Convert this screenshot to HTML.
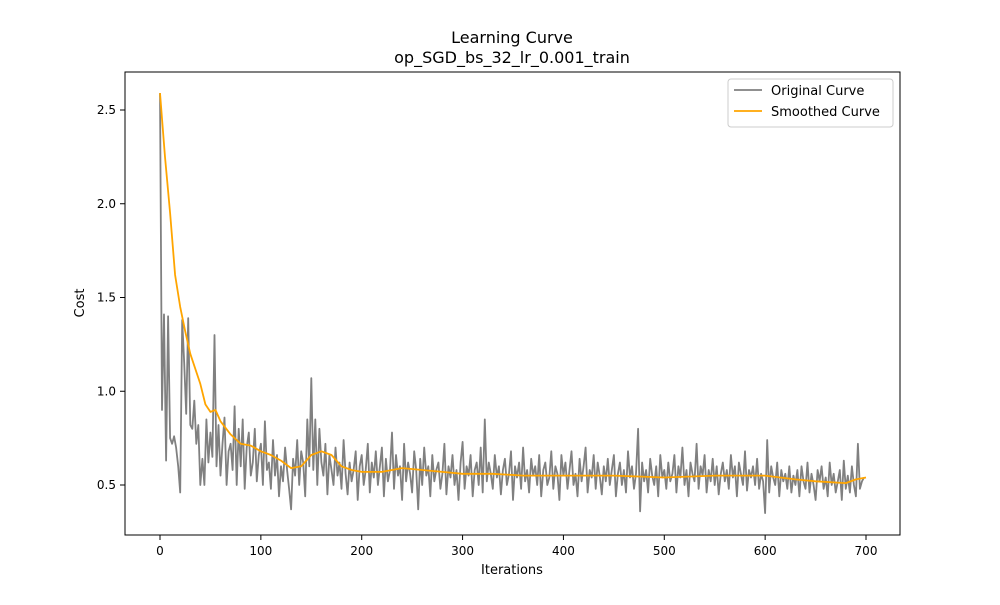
<!DOCTYPE html>
<html><head><meta charset="utf-8"><style>
body{margin:0;background:#fff;font-family:"Liberation Sans","DejaVu Sans",sans-serif}
</style></head><body>
<svg id="chart" width="1000" height="600" xmlns="http://www.w3.org/2000/svg" font-family="DejaVu Sans, Liberation Sans, sans-serif">
<rect width="1000" height="600" fill="#fff"/>
<text x="512" y="43" text-anchor="middle" font-size="16">Learning Curve</text>
<text x="512" y="63" text-anchor="middle" font-size="16">op_SGD_bs_32_lr_0.001_train</text>
<g id="plot"></g>
<rect x="125" y="72" width="775" height="463" fill="none" stroke="#000" stroke-width="1"/>
<text x="512" y="574" text-anchor="middle" font-size="13">Iterations</text>
<text transform="translate(84,303) rotate(-90)" text-anchor="middle" font-size="13">Cost</text>
<g>
<rect x="728" y="79" width="165" height="48" rx="3" fill="#fff" stroke="#ccc"/>
<line x1="734" y1="90" x2="762" y2="90" stroke="#808080" stroke-width="1.8"/>
<text x="771" y="95" font-size="13">Original Curve</text>
<line x1="734" y1="111" x2="762" y2="111" stroke="#FFA500" stroke-width="1.8"/>
<text x="771" y="116" font-size="13">Smoothed Curve</text>
</g>
</svg>
<script>
const originalStep = 2;
const originalValues = [
2.59,0.90,1.41,0.63,1.40,0.75,0.72,0.76,0.70,0.60,0.46,1.38,1.15,0.88,1.39,0.82,0.80,0.95,0.72,0.82,
0.50,0.64,0.50,0.85,0.62,0.78,0.65,1.30,0.60,0.82,0.55,0.72,0.86,0.50,0.68,0.72,0.58,0.92,0.50,0.80,0.60,0.85,0.48,0.70,0.78,0.55,0.62,0.80,0.52,0.66,
0.72,0.50,0.84,0.58,0.62,0.48,0.74,0.55,0.66,0.44,0.60,0.52,0.70,0.58,0.48,0.37,0.64,0.55,0.74,0.50,0.68,0.62,0.44,0.85,0.60,1.07,0.58,0.85,0.50,0.80,0.62,0.55,0.72,0.45,0.66,0.58,0.50,0.70,0.55,0.62,0.48,0.74,0.56,0.45,0.62,0.52,0.58,0.68,0.42,0.60,
0.66,0.50,0.58,0.72,0.46,0.62,0.54,0.68,0.50,0.60,0.70,0.44,0.64,0.52,0.58,0.78,0.48,0.66,0.55,0.60,0.42,0.72,0.52,0.62,0.56,0.46,0.68,0.58,0.37,0.64,0.50,0.70,0.55,0.60,0.44,0.66,0.52,0.58,0.62,0.48,0.56,0.72,0.45,0.60,0.54,0.66,0.50,0.58,0.42,0.62,
0.73,0.48,0.60,0.55,0.66,0.44,0.58,0.62,0.50,0.70,0.46,0.85,0.52,0.62,0.56,0.48,0.66,0.54,0.60,0.45,0.58,0.64,0.50,0.56,0.68,0.42,0.60,0.54,0.62,0.48,0.70,0.52,0.58,0.46,0.64,0.55,0.60,0.50,0.66,0.44,0.58,0.62,0.50,0.54,0.68,0.48,0.60,0.56,0.42,0.66,
0.55,0.62,0.48,0.58,0.68,0.50,0.56,0.44,0.64,0.52,0.60,0.70,0.46,0.58,0.54,0.66,0.48,0.62,0.55,0.45,0.60,0.52,0.64,0.50,0.58,0.66,0.44,0.56,0.62,0.50,0.58,0.46,0.68,0.54,0.60,0.48,0.56,0.80,0.36,0.62,0.52,0.58,0.46,0.64,0.55,0.50,0.60,0.44,0.66,0.54,
0.58,0.48,0.62,0.52,0.56,0.66,0.46,0.60,0.54,0.70,0.50,0.58,0.44,0.62,0.56,0.52,0.72,0.48,0.60,0.55,0.66,0.46,0.58,0.52,0.64,0.50,0.60,0.45,0.56,0.62,0.52,0.58,0.48,0.66,0.54,0.60,0.44,0.62,0.56,0.50,0.68,0.47,0.58,0.54,0.60,0.50,0.64,0.48,0.56,0.52,
0.35,0.74,0.46,0.60,0.54,0.50,0.62,0.44,0.58,0.52,0.56,0.48,0.60,0.46,0.55,0.50,0.58,0.44,0.60,0.52,0.48,0.62,0.46,0.56,0.50,0.42,0.58,0.52,0.60,0.48,0.54,0.44,0.62,0.50,0.56,0.46,0.52,0.58,0.42,0.63,0.48,0.55,0.46,0.60,0.50,0.44,0.72,0.48,0.52,0.54
];
const smoothIters = [0,5,10,15,20,25,30,35,40,45,50,55,60,70,80,90,100,110,120,130,140,150,160,170,180,190,200,220,240,260,280,300,330,360,400,450,500,550,600,630,650,680,690,700];
const smoothValues = [2.59,2.25,1.95,1.62,1.45,1.32,1.20,1.12,1.04,0.93,0.89,0.90,0.84,0.77,0.72,0.71,0.68,0.66,0.63,0.59,0.60,0.66,0.68,0.66,0.60,0.58,0.57,0.57,0.59,0.58,0.57,0.56,0.56,0.55,0.55,0.55,0.54,0.55,0.55,0.53,0.52,0.51,0.53,0.54];
const xTicks = [0,100,200,300,400,500,600,700];
const yTicks = [0.5,1.0,1.5,2.0,2.5];

const NS = "http://www.w3.org/2000/svg";
const X = v => 160 + (v) * (866 - 160) / 700;
const Y = v => 485 - (v - 0.5) * 187.5;
const g = document.getElementById('plot');
function mk(tag, attrs){const e=document.createElementNS(NS,tag);for(const k in attrs)e.setAttribute(k,attrs[k]);return e;}

xTicks.forEach(t=>{
  const l=mk('line',{x1:X(t),x2:X(t),y1:535,y2:540,stroke:'#000'});
  
  
  g.appendChild(l);
  const tx=mk('text',{x:X(t),y:555,'text-anchor':'middle','font-size':'12'});
  
  
  tx.textContent=t; g.appendChild(tx);
});
yTicks.forEach(t=>{
  const l=mk('line',{x1:120,x2:125,y1:Y(t),y2:Y(t),stroke:'#000'});
  
  
  g.appendChild(l);
  const tx=mk('text',{x:116,y:Y(t)+4,'text-anchor':'end','font-size':'12'});
  
  
  tx.textContent=t.toFixed(1); g.appendChild(tx);
});
const op=originalValues.map((v,i)=>X(i*originalStep).toFixed(1)+','+Y(v).toFixed(1)).join(' ');
const o=mk('polyline',{points:op,fill:'none',stroke:'#808080','stroke-width':'1.8','stroke-linejoin':'round'});


g.appendChild(o);
const sp=smoothValues.map((v,i)=>X(smoothIters[i]).toFixed(1)+','+Y(v).toFixed(1)).join(' ');
const s=mk('polyline',{points:sp,fill:'none',stroke:'#FFA500','stroke-width':'1.8','stroke-linejoin':'round'});


g.appendChild(s);
</script>
</body></html>
